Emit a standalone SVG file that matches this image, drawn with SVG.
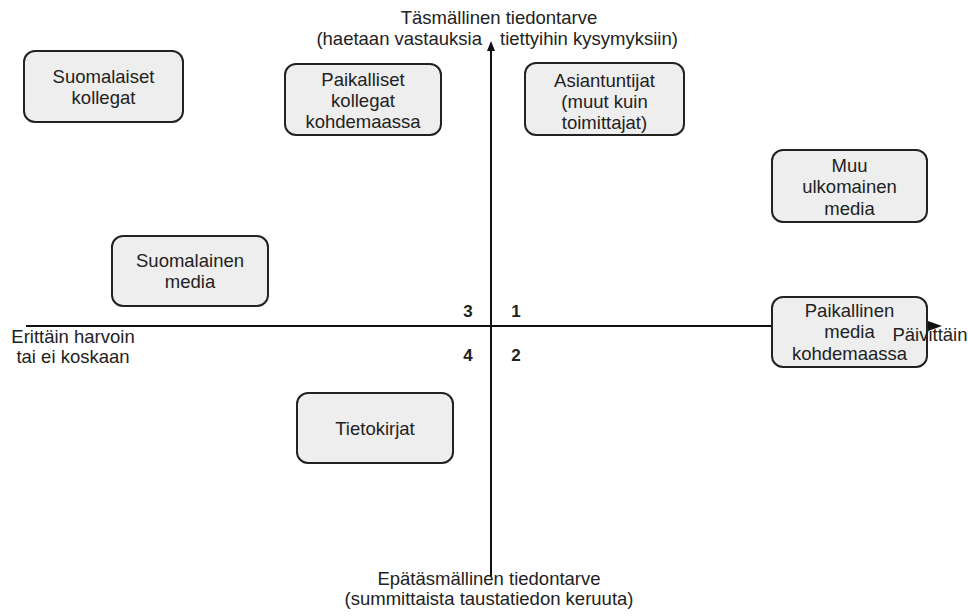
<svg xmlns="http://www.w3.org/2000/svg" width="968" height="616" viewBox="0 0 968 616">
<style>
.box{fill:#eeeeee;stroke:#222;stroke-width:2}
.t{font-family:"Liberation Sans",Arial,sans-serif;font-size:18.5px;fill:#222;text-anchor:middle}
.n{font-family:"Liberation Sans",Arial,sans-serif;font-size:17px;font-weight:bold;fill:#222;text-anchor:middle}
.ax{stroke:#111;stroke-width:2;fill:none}
</style>
<rect width="968" height="616" fill="#fff"/>
<g id="connectors">
<line class="ax" x1="491" y1="577" x2="491" y2="48"/>
<polygon points="491,41 487,51 495,51" fill="#111"/>
<line class="ax" x1="26" y1="326" x2="930" y2="326"/>
<polygon points="942,326 928,321 928,331" fill="#111"/>
</g>
<g id="axis-labels">
<text class="t" x="499" y="24">Täsmällinen tiedontarve</text>
<text class="t" x="482" y="45" style="text-anchor:end">(haetaan vastauksia</text>
<text class="t" x="500" y="45" style="text-anchor:start">tiettyihin kysymyksiin)</text>
<text class="t" x="489" y="585">Epätäsmällinen tiedontarve</text>
<text class="t" x="489" y="605">(summittaista taustatiedon keruuta)</text>
<text class="t" x="73" y="343">Erittäin harvoin</text>
<text class="t" x="73" y="363">tai ei koskaan</text>
</g>
<g id="quadrants">
<text class="n" x="468" y="317">3</text>
<text class="n" x="516" y="317">1</text>
<text class="n" x="468" y="361">4</text>
<text class="n" x="516" y="361">2</text>
</g>
<g id="suomalaiset-kollegat">
<rect class="box" x="24" y="51" width="159" height="71" rx="11"/>
<text class="t" x="103.5" y="83">Suomalaiset</text>
<text class="t" x="103.5" y="104">kollegat</text>
</g>
<g id="paikalliset-kollegat">
<rect class="box" x="285" y="64" width="156" height="71" rx="11"/>
<text class="t" x="363" y="86">Paikalliset</text>
<text class="t" x="363" y="107">kollegat</text>
<text class="t" x="363" y="128">kohdemaassa</text>
</g>
<g id="asiantuntijat">
<rect class="box" x="525" y="63" width="159" height="72" rx="11"/>
<text class="t" x="604.5" y="87">Asiantuntijat</text>
<text class="t" x="604.5" y="108">(muut kuin</text>
<text class="t" x="604.5" y="129">toimittajat)</text>
</g>
<g id="muu-ulkomainen-media">
<rect class="box" x="772" y="150" width="155" height="72" rx="11"/>
<text class="t" x="849.5" y="172">Muu</text>
<text class="t" x="849.5" y="193">ulkomainen</text>
<text class="t" x="849.5" y="215">media</text>
</g>
<g id="suomalainen-media">
<rect class="box" x="112" y="236" width="156" height="70" rx="11"/>
<text class="t" x="190" y="267">Suomalainen</text>
<text class="t" x="190" y="288">media</text>
</g>
<g id="paikallinen-media">
<rect class="box" x="772" y="297" width="155" height="70" rx="11"/>
<text class="t" x="849.5" y="317">Paikallinen</text>
<text class="t" x="849.5" y="338">media</text>
<text class="t" x="849.5" y="360">kohdemaassa</text>
</g>
<g id="paivittain">
<text class="t" x="930" y="341">Päivittäin</text>
</g>
<g id="tietokirjat">
<rect class="box" x="297" y="393" width="156" height="70" rx="11"/>
<text class="t" x="375" y="435">Tietokirjat</text>
</g>
</svg>
